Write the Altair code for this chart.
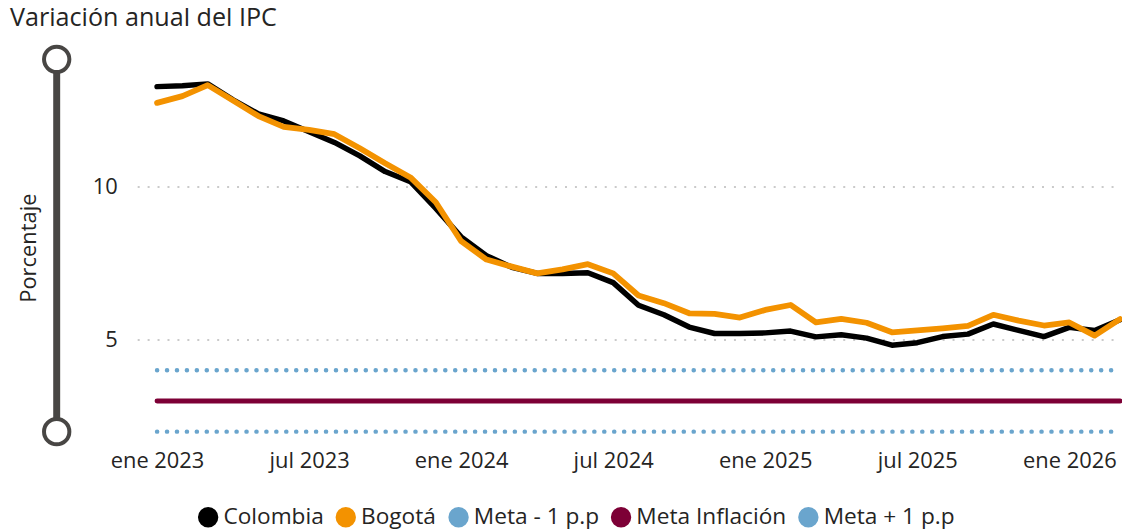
import altair as alt
import pandas as pd

# ---- data ----
MESES = list(range(39))  # 0 = ene 2023 ... 38 = mar 2026
COLOMBIA = [13.25, 13.28, 13.34, 12.82, 12.36, 12.13, 11.78, 11.43, 10.99, 10.48, 10.15, 9.28,
            8.35, 7.74, 7.36, 7.16, 7.16, 7.18, 6.86, 6.12, 5.81, 5.41, 5.20, 5.20,
            5.22, 5.28, 5.09, 5.16, 5.05, 4.82, 4.90, 5.10, 5.18, 5.51, 5.30, 5.10,
            5.40, 5.30, 5.65]
BOGOTA = [12.72, 12.94, 13.30, 12.80, 12.29, 11.94, 11.84, 11.70, 11.24, 10.75, 10.29, 9.48,
          8.21, 7.61, 7.38, 7.16, 7.29, 7.46, 7.16, 6.44, 6.19, 5.86, 5.84, 5.72,
          5.97, 6.13, 5.56, 5.68, 5.55, 5.24, 5.30, 5.37, 5.45, 5.81, 5.62, 5.46,
          5.56, 5.13, 5.67]
SERIES = ["Colombia", "Bogotá", "Meta - 1 p.p", "Meta Inflación", "Meta + 1 p.p"]
COLORES = ["#000000", "#F39200", "#6AA5CD", "#7D0036", "#6AA5CD"]
META = 3
META_MENOS = 2
META_MAS = 4
TICKS_X = [0, 6, 12, 18, 24, 30, 36]
TICKS_Y = [5, 10]
X_DOMINIO = [-0.784, 38.04]
Y_DOMINIO = [1.6, 14.4]
SLIDER = [2.0, 14.14]

FONT = "Open Sans"
TXT = "#252423"
COLOR = dict(zip(SERIES, COLORES))

series_df = pd.DataFrame({
    "mes": MESES * 2,
    "valor": COLOMBIA + BOGOTA,
    "serie": ["Colombia"] * len(MESES) + ["Bogotá"] * len(MESES),
})
meta_df = pd.DataFrame({
    "mes": [MESES[0], MESES[-1]] * 3,
    "valor": [META_MENOS] * 2 + [META] * 2 + [META_MAS] * 2,
    "serie": ["Meta - 1 p.p"] * 2 + ["Meta Inflación"] * 2 + ["Meta + 1 p.p"] * 2,
})
leyenda_df = pd.DataFrame({"mes": [0] * 5, "valor": [META] * 5, "serie": SERIES})
slider_df = pd.DataFrame({"valor": [SLIDER[1]], "valor2": [SLIDER[0]]})
slider_ends = pd.DataFrame({"valor": SLIDER})

x_enc = alt.X(
    "mes:Q",
    scale=alt.Scale(domain=X_DOMINIO, nice=False, zero=False),
    axis=alt.Axis(values=TICKS_X, title=None, grid=False, domain=False, ticks=False, tickSize=0,
                  labelPadding=7, labelFlush=False, labelOverlap=False,
                  labelExpr="(datum.value % 12 == 0 ? 'ene ' : 'jul ') + (2023 + floor(datum.value / 12))",
                  labelFont=FONT, labelFontSize=22, labelColor=TXT),
)
y_axis = alt.Axis(values=TICKS_Y, title="Porcentaje", grid=True, gridDash=[2, 8], gridColor="#CACACA",
                  gridWidth=2, domain=False, ticks=False, tickSize=0, labelPadding=20,
                  labelFont=FONT, labelFontSize=22, labelColor=TXT,
                  titleFont=FONT, titleFontSize=22, titleColor=TXT, titleFontWeight="normal",
                  titleAngle=270, titleX=-109, titleY=197.5, titleAlign="center", titleBaseline="middle")
y_scale = alt.Scale(domain=Y_DOMINIO, nice=False, zero=False)
y_enc = alt.Y("valor:Q", scale=y_scale, axis=y_axis)


def linea(df, nombre, **kw):
    return alt.Chart(df).transform_filter(alt.datum.serie == nombre).mark_line(
        color=COLOR[nombre], strokeCap="round", strokeJoin="round", **kw).encode(x=x_enc, y=y_enc)


meta_menos = linea(meta_df, "Meta - 1 p.p", strokeWidth=4.5, strokeDash=[0.1, 9.9])
meta_mas = linea(meta_df, "Meta + 1 p.p", strokeWidth=4.5, strokeDash=[0.1, 9.9])
meta_sol = linea(meta_df, "Meta Inflación", strokeWidth=5)
col = linea(series_df, "Colombia", strokeWidth=5.5)
bog = linea(series_df, "Bogotá", strokeWidth=5.8)

leyenda = alt.Chart(leyenda_df).mark_circle(opacity=0).encode(
    x=x_enc, y=y_enc,
    fill=alt.Fill("serie:N", scale=alt.Scale(domain=SERIES, range=COLORES),
                  legend=alt.Legend(title=None, orient="none", legendX=60, legendY=457,
                                    direction="horizontal", symbolType="circle", symbolSize=420,
                                    symbolStrokeWidth=0, symbolOpacity=1,
                                    labelFont=FONT, labelFontSize=22.8, labelColor=TXT,
                                    labelOffset=4, columnPadding=10.5, labelLimit=0)),
)

slider_rule = alt.Chart(slider_df).mark_rule(color="#484644", strokeWidth=7).encode(
    x=alt.value(-81), y=y_enc, y2="valor2:Q",
)
slider_pts = alt.Chart(slider_ends).mark_point(
    shape="circle", filled=True, fill="white", stroke="#484644", strokeWidth=4, size=650, opacity=1).encode(
    x=alt.value(-81), y=y_enc,
)

chart = alt.layer(
    meta_menos, meta_mas, meta_sol, col, bog, leyenda, slider_rule, slider_pts
).properties(
    width=990, height=395,
    autosize=alt.AutoSizeParams(type="none"),
    padding={"left": 130, "top": 42, "right": 1, "bottom": 86},
    title=alt.TitleParams("Variación anual del IPC", anchor="start", frame="group", dx=-128, offset=8,
                          font=FONT, fontSize=25.3, fontWeight="normal", color=TXT),
).configure(font=FONT).configure_view(stroke=None)

chart.save("out.html", embed_options={"renderer": "svg", "actions": False})
